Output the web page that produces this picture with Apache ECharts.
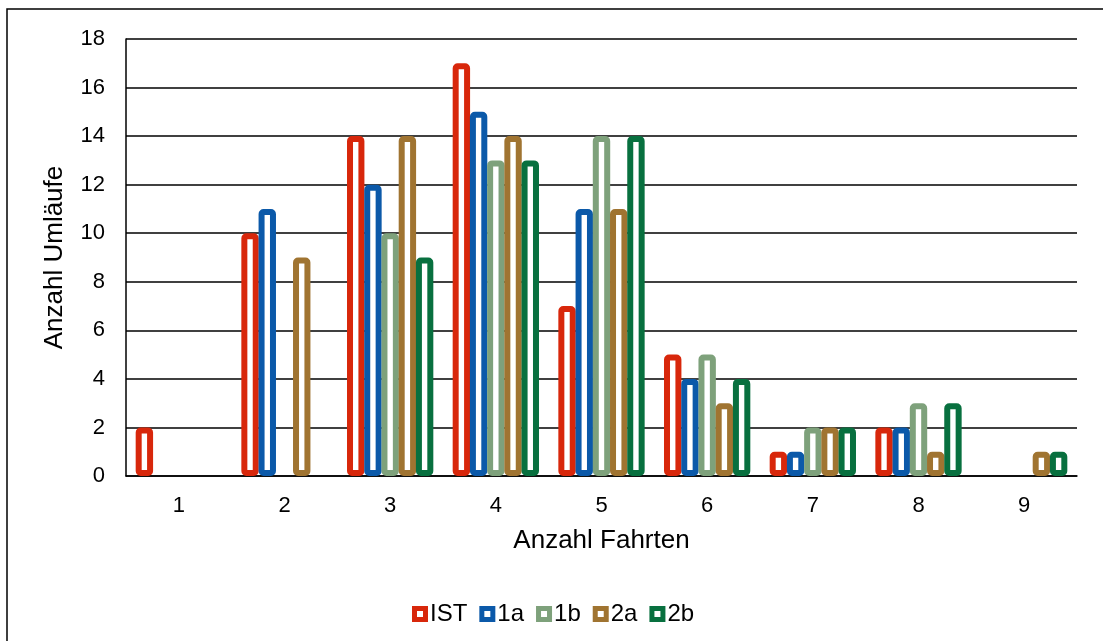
<!DOCTYPE html>
<html>
<head>
<meta charset="utf-8">
<script src="https://cdn.jsdelivr.net/npm/echarts@6/dist/echarts.min.js"></script>
<style>
html,body{margin:0;padding:0;background:#fff;}
#c{width:1103px;height:641px;}
</style>
</head>
<body>
<div id="c"></div>
<script>
var categories = ['1','2','3','4','5','6','7','8','9'];
var seriesNames = ['IST','1a','1b','2a','2b'];
var valIST = [2, 10, 14, 17, 7, 5, 1, 2, null];
var val1a  = [null, 11, 12, 15, 11, 4, 1, 2, null];
var val1b  = [null, null, 10, 13, 14, 5, 2, 3, null];
var val2a  = [null, 9, 14, 14, 11, 3, 2, 1, 1];
var val2b  = [null, null, 9, 13, 14, 4, 2, 3, 1];
var yTicks = [0, 2, 4, 6, 8, 10, 12, 14, 16, 18];
var colors = ['#d8270b', '#0b59a9', '#7ea17b', '#a07431', '#08703f'];
var allValues = [valIST, val1a, val1b, val2a, val2b];

var chart = echarts.init(document.getElementById('c'), null, {renderer: 'canvas'});
var font = 'Liberation Sans, Arial, sans-serif';

var series = seriesNames.map(function (name, i) {
  return {
    name: name,
    type: 'bar',
    data: allValues[i],
    barWidth: 17.4,
    barGap: '-1%',
    itemStyle: {
      color: '#ffffff',
      borderColor: colors[i],
      borderWidth: 6,
      borderRadius: 2
    },
    emphasis: {disabled: true}
  };
});

var legendIcon = 'path://M0,0H16V16H0Z M5,5V11H11V5Z';

chart.setOption({
  animation: false,
  backgroundColor: '#ffffff',
  color: colors,
  graphic: [{
    type: 'rect',
    shape: {x: 7, y: 9, width: 1300, height: 800},
    style: {fill: 'none', stroke: '#000', lineWidth: 1.5},
    silent: true,
    z: 100
  }],
  grid: {left: 126, right: 26, top: 39, bottom: 165, containLabel: false},
  legend: {
    data: seriesNames.map(function (n, i) {
      return {name: n, icon: legendIcon, itemStyle: {color: colors[i], borderWidth: 0}};
    }),
    left: 412,
    top: 602,
    padding: 0,
    itemWidth: 16,
    itemHeight: 16,
    itemGap: 12,
    textStyle: {fontFamily: font, fontSize: 24, color: '#000', padding: [0, 0, 0, -3]}
  },
  xAxis: {
    type: 'category',
    data: categories,
    name: 'Anzahl Fahrten',
    nameLocation: 'middle',
    nameGap: 52,
    nameTextStyle: {fontFamily: font, fontSize: 26, color: '#000'},
    axisLine: {show: true, lineStyle: {color: '#000', width: 1.5}},
    axisTick: {show: false},
    axisLabel: {fontFamily: font, fontSize: 22, color: '#000', margin: 19}
  },
  yAxis: {
    type: 'value',
    min: 0,
    max: 18,
    interval: 2,
    name: 'Anzahl Umläufe',
    nameLocation: 'middle',
    nameGap: 58,
    nameTextStyle: {fontFamily: font, fontSize: 26, color: '#000'},
    axisLine: {show: true, lineStyle: {color: '#000', width: 1.5}},
    axisTick: {show: false},
    splitLine: {show: true, lineStyle: {color: '#000', width: 1.5}},
    axisLabel: {
      fontFamily: font, fontSize: 22, color: '#000', margin: 21,
      formatter: function (v) { return yTicks.indexOf(v) >= 0 ? String(v) : ''; }
    }
  },
  series: series
});
</script>
</body>
</html>
